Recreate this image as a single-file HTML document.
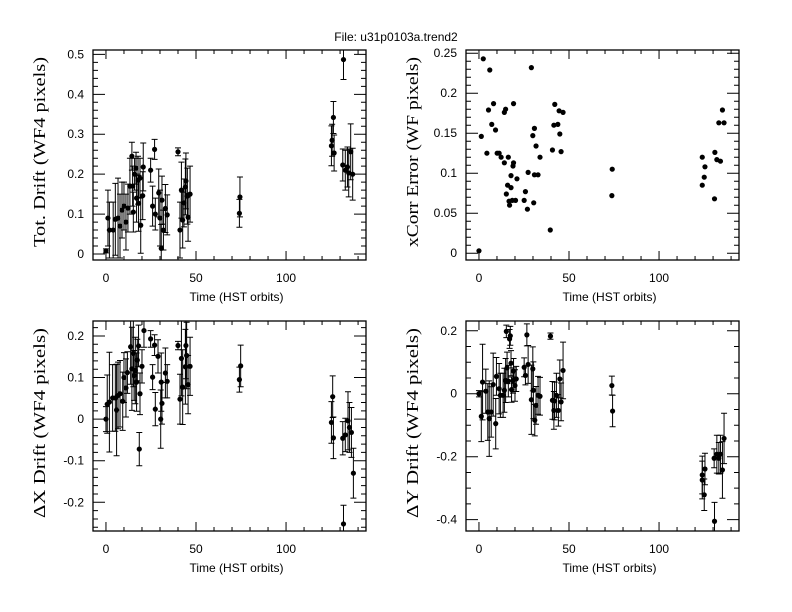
<!DOCTYPE html>
<html><head><meta charset="utf-8"><style>
body{margin:0;background:#fff}
svg{display:block}
text{fill:#000}
.tk{font-family:"Liberation Sans",sans-serif;font-size:12px}
.yt{font-family:"Liberation Serif",serif;font-size:17px}
</style></head><body>
<svg id="c" width="792" height="612" viewBox="0 0 792 612" xmlns="http://www.w3.org/2000/svg">
<text x="396" y="41" text-anchor="middle" class="tk">File: u31p0103a.trend2</text>
</svg>
<script>
// ---- Panel 1: Total drift ----
const totT=[0,1.1,1.9,4,5.2,6.7,7.8,8.9,10,11.1,12.2,13.3,14.4,14.8,15.2,15.9,16.7,17,17.8,18.1,18.9,19.3,20.4,20.7,24.8,25.9,27,27.4,29.3,30,30.7,31.1,31.9,33,34,40,41.1,41.9,42.6,43.3,44.1,44.4,45.2,45.6,46.7,74.1,74.4,125.2,125.6,126.3,126.7,131.9,131.5,132.9,134.1,134.8,135.9,137];
const totV=[0.008,0.09,0.06,0.06,0.087,0.09,0.07,0.11,0.12,0.08,0.115,0.17,0.245,0.17,0.105,0.2,0.215,0.14,0.185,0.127,0.19,0.072,0.146,0.218,0.21,0.12,0.262,0.1,0.153,0.09,0.014,0.135,0.06,0.114,0.098,0.256,0.06,0.16,0.085,0.128,0.168,0.183,0.145,0.092,0.15,0.102,0.143,0.271,0.285,0.342,0.253,0.487,0.223,0.21,0.218,0.203,0.256,0.2];
const totE=[0.005,0.07,0.07,0.07,0.09,0.1,0.08,0.07,0.06,0.07,0.06,0.07,0.035,0.05,0.05,0.04,0.04,0.06,0.06,0.07,0.05,0.07,0.06,0.06,0.03,0.05,0.025,0.04,0.06,0.07,0.06,0.06,0.05,0.06,0.05,0.01,0.07,0.07,0.07,0.06,0.07,0.07,0.07,0.06,0.07,0.035,0.05,0.05,0.04,0.04,0.045,0.05,0.04,0.05,0.05,0.06,0.07,0.065];
// ---- Panel 2: xCorr error ----
const xcT=[0,2.4,1.3,4.4,5.3,6,7.1,8.1,9.2,10.1,11.2,12.3,14.1,14.1,14.8,15.2,15.9,16.3,16.7,17,17.8,17.8,18.5,18.9,19.2,19.2,20.3,21.1,25.1,25.8,26.9,27.3,29.1,29.9,30.4,30.8,30.8,31.7,32.8,33.9,39.6,40.8,41.6,42.1,43.8,44.5,44.9,45.6,46.7,73.8,74,124,124,125.1,125.5,130.8,131,132.1,133.2,134.1,135.2,136.1];
const xcV=[0.003,0.243,0.146,0.125,0.179,0.229,0.161,0.187,0.154,0.125,0.125,0.12,0.113,0.176,0.18,0.074,0.085,0.12,0.065,0.06,0.097,0.082,0.066,0.109,0.113,0.187,0.066,0.093,0.066,0.077,0.055,0.101,0.232,0.147,0.063,0.156,0.098,0.134,0.098,0.12,0.029,0.129,0.16,0.186,0.161,0.178,0.149,0.127,0.176,0.072,0.105,0.12,0.085,0.095,0.108,0.068,0.126,0.117,0.163,0.115,0.179,0.163];
// ---- Panel 3: delta X drift ----
const dxT=[0,0.7,1.9,3.7,5.2,5.9,6.7,7.8,9.3,10,11.1,11.9,13.7,14.4,15.2,15.6,16.3,17,17.4,18.1,18.5,18.9,20,21.1,24.8,25.9,27,27.4,28.9,30.4,30.7,31.1,33,34,40,41.1,41.9,42.6,44.1,44.4,44.8,45.6,46.7,74.1,74.8,125.2,125.9,126.3,131.9,131.5,132.9,134.4,135.2,136.3,137.4];
const dxV=[0,0.036,0.041,0.051,0.051,0.022,0.057,0.061,0.043,0.1,0.075,0.112,0.174,0.121,0.158,0.105,0.117,0.089,0.142,0.176,-0.072,0.061,0.127,0.213,0.193,0.101,0.178,0.024,0.151,0,0.089,0.038,0.111,0.091,0.177,0.048,0.146,0.077,0.126,0.177,0.153,0.083,0.127,0.095,0.128,-0.008,0.054,-0.045,-0.252,-0.046,-0.038,-0.004,-0.02,-0.032,-0.13];
const dxE=[0.03,0.07,0.12,0.08,0.08,0.11,0.08,0.08,0.07,0.06,0.07,0.05,0.09,0.1,0.08,0.06,0.08,0.07,0.05,0.05,0.04,0.05,0.04,0.04,0.02,0.03,0.025,0.04,0.04,0.07,0.07,0.05,0.06,0.04,0.01,0.06,0.09,0.09,0.09,0.08,0.08,0.07,0.07,0.03,0.05,0.05,0.05,0.05,0.045,0.04,0.04,0.07,0.06,0.06,0.06];
// ---- Panel 4: delta Y drift ----
const dyT=[0,1.3,2,3.8,4.9,5.7,6.8,7.9,9.3,9.7,11.2,11.9,13.4,14.1,14.8,15.2,15.6,16.3,17,17.4,17.8,18.1,18.9,19.2,20,20.7,25.1,25.8,26.6,27.3,29.1,29.9,30.2,31,31.7,32.8,33.9,39.7,40.8,41.6,42,43,44.1,44.9,45.6,46.7,73.8,74.2,124,124,125.1,125.5,130.8,130.6,132.1,133.2,134.1,135.2,136.1];
const dyV=[0,-0.072,0.037,0.008,-0.058,-0.079,-0.058,0.029,-0.095,0.055,0.016,-0.005,-0.005,0.011,0.042,0.198,0.082,0.04,0.174,0.184,0.097,0.013,0.042,0.072,0.026,0.047,0.084,0.058,0.187,0.093,-0.019,0.079,0.011,-0.084,-0.037,-0.005,-0.008,0.183,-0.021,-0.053,-0.023,-0.005,-0.053,0.047,-0.026,0.074,0.026,-0.055,-0.258,-0.274,-0.321,-0.239,-0.405,-0.205,-0.192,-0.205,-0.192,-0.242,-0.142];
const dyE=[0.01,0.08,0.12,0.07,0.09,0.12,0.08,0.1,0.08,0.06,0.08,0.07,0.07,0.07,0.07,0.02,0.05,0.05,0.03,0.03,0.04,0.04,0.04,0.04,0.05,0.04,0.03,0.03,0.035,0.06,0.11,0.07,0.09,0.05,0.06,0.06,0.06,0.01,0.06,0.06,0.06,0.07,0.05,0.06,0.06,0.09,0.03,0.05,0.06,0.06,0.05,0.05,0.06,0.03,0.06,0.05,0.06,0.09,0.08];
const xTicks=[0,50,100];

const NS='http://www.w3.org/2000/svg';
const svg=document.getElementById('c');
function mk(tag,attrs,parent){const e=document.createElementNS(NS,tag);for(const k in attrs)e.setAttribute(k,attrs[k]);(parent||svg).appendChild(e);return e;}

function panel(cfg){
  const g=mk('g',{});
  
  
  const L=cfg.L,R=cfg.R,T=cfg.T,B=cfg.B;
  const xmin=-7.2,xmax=144.4;
  const sx=t=>L+(t-xmin)/(xmax-xmin)*(R-L);
  const sy=v=>B-(v-cfg.ymin)/(cfg.ymax-cfg.ymin)*(B-T);
  const fr=mk('rect',{x:L,y:T,width:R-L,height:B-T,fill:'none',stroke:'#000','stroke-width':1.3},g);
  
  
  let p='';
  for(let t=0;t<=140.01;t+=10){const X=sx(t),len=(t%50===0)?9:4;p+=`M${X} ${B}v${-len}M${X} ${T}v${len}`;}
  const n=Math.round((cfg.ymax-cfg.ymin)/cfg.minor)+2;
  const start=Math.ceil(cfg.ymin/cfg.minor-1e-6);
  for(let i=start;i*cfg.minor<=cfg.ymax+1e-9;i++){
    const v=i*cfg.minor,Y=sy(v);
    const maj=Math.abs(v/cfg.major-Math.round(v/cfg.major))<1e-6;
    const len=maj?12:5;p+=`M${L} ${Y}h${len}M${R} ${Y}h${-len}`;
  }
  const tk=mk('path',{d:p,stroke:'#000','stroke-width':1,fill:'none'},g);
  
  
  xTicks.forEach(t=>{const e=mk('text',{x:sx(t),y:B+22,'text-anchor':'middle',class:'tk'},g);e.textContent=t;
    
    });
  cfg.yTicks.forEach((v,i)=>{const e=mk('text',{x:L-9,y:sy(v)+4,'text-anchor':'end',class:'tk'},g);e.textContent=cfg.yLabels[i];
    
    });
  const xl=mk('text',{x:(L+R)/2+7,y:B+41,'text-anchor':'middle',class:'tk'},g);xl.textContent='Time (HST orbits)';
  
  
  const cy=(T+B)/2-3,cx=L-48;
  const yl=mk('text',{x:cx,y:cy,'text-anchor':'middle',class:'yt',transform:`rotate(-90 ${cx} ${cy})`,textLength:190,lengthAdjust:'spacingAndGlyphs'},g);
  yl.textContent=cfg.ytitle;
  
  
  const cl=mk('clipPath',{id:'cp'+cfg.name},g);mk('rect',{x:L,y:T,width:R-L,height:B-T},cl);
  const dg=mk('g',{'clip-path':`url(#cp${cfg.name})`},g);
  cfg.T_.forEach((t,i)=>{
    const X=sx(t),Y=sy(cfg.V[i]);
    if(cfg.E){const e=cfg.E[i],y1=sy(cfg.V[i]+e),y2=sy(cfg.V[i]-e);
      const eb=mk('path',{d:`M${X} ${y1}V${y2}M${X-3} ${y1}h6M${X-3} ${y2}h6`,stroke:'#000','stroke-width':1,fill:'none'},dg);
      
      }
    const c=mk('circle',{cx:X,cy:Y,r:2.6,fill:'#000'},dg);
    
    
  });
}
panel({name:'tot-drift-panel',L:93,R:366,T:50,B:260,ymin:-0.015,ymax:0.511,major:0.1,minor:0.02,
  yTicks:[0,0.1,0.2,0.3,0.4,0.5],yLabels:['0','0.1','0.2','0.3','0.4','0.5'],ytitle:'Tot. Drift (WF4 pixels)',T_:totT,V:totV,E:totE});
panel({name:'xcorr-error-panel',L:466,R:739,T:50,B:260,ymin:-0.0085,ymax:0.254,major:0.05,minor:0.01,
  yTicks:[0,0.05,0.1,0.15,0.2,0.25],yLabels:['0','0.05','0.1','0.15','0.2','0.25'],ytitle:'xCorr Error (WF pixels)',T_:xcT,V:xcV,E:null});
panel({name:'dx-drift-panel',L:93,R:366,T:321,B:531,ymin:-0.269,ymax:0.236,major:0.1,minor:0.02,
  yTicks:[-0.2,-0.1,0,0.1,0.2],yLabels:['-0.2','-0.1','0','0.1','0.2'],ytitle:'\u0394X Drift (WF4 pixels)',T_:dxT,V:dxV,E:dxE});
panel({name:'dy-drift-panel',L:466,R:739,T:321,B:531,ymin:-0.436,ymax:0.231,major:0.2,minor:0.05,
  yTicks:[-0.4,-0.2,0,0.2],yLabels:['-0.4','-0.2','0','0.2'],ytitle:'\u0394Y Drift (WF4 pixels)',T_:dyT,V:dyV,E:dyE});
</script>
</body></html>
